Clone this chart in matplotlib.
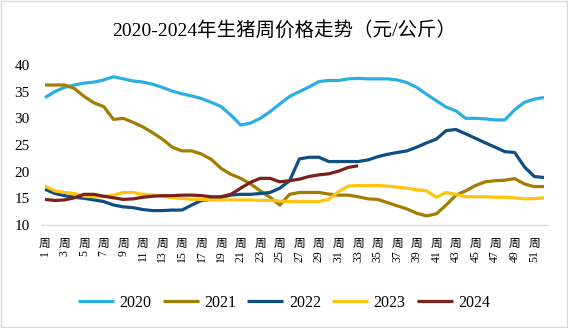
import numpy as np
import matplotlib
matplotlib.use('Agg')
import matplotlib.pyplot as plt
from matplotlib.patches import Rectangle
from matplotlib.transforms import blended_transform_factory

plt.rcParams['font.family'] = ['Liberation Serif', 'Noto Sans CJK SC', 'DejaVu Sans']

weeks = np.arange(1, 53)
label_weeks = weeks[::2]      # 1,3,...,51
label_unit = '周'

p2020 = [33.9, 35.0, 35.8, 36.25, 36.6, 36.8, 37.2, 37.8, 37.4, 37.0,
         36.8, 36.4, 35.8, 35.1, 34.6, 34.2, 33.7, 33.0, 32.2, 30.6,
         28.75, 29.1, 30.0, 31.25, 32.7, 34.1, 35.0, 35.9, 36.9, 37.1,
         37.1, 37.4, 37.5, 37.4, 37.4, 37.4, 37.2, 36.7, 35.8, 34.5,
         33.3, 32.1, 31.4, 30.0, 30.0, 29.9, 29.7, 29.7, 31.6, 33.0,
         33.6, 33.9]
p2021 = [36.25, 36.25, 36.25, 35.6, 34.1, 32.9, 32.2, 29.8, 30.0, 29.25,
         28.4, 27.3, 26.1, 24.6, 23.9, 23.9, 23.3, 22.3, 20.6, 19.5,
         18.75, 17.7, 16.4, 15.2, 13.75, 15.75, 16.1, 16.1, 16.1, 15.8,
         15.6, 15.6, 15.3, 14.9, 14.8, 14.2, 13.6, 13.0, 12.2, 11.7,
         12.1, 13.75, 15.6, 16.4, 17.4, 18.1, 18.3, 18.4, 18.7, 17.7,
         17.2, 17.2]
p2022 = [16.7, 15.9, 15.5, 15.2, 15.0, 14.7, 14.4, 13.75, 13.4, 13.25,
         12.9, 12.7, 12.7, 12.8, 12.8, 13.75, 14.6, 14.8, 15.2, 15.6,
         15.75, 15.75, 15.9, 16.1, 16.9, 18.3, 22.4, 22.7, 22.7, 21.9,
         21.9, 21.9, 21.9, 22.2, 22.8, 23.25, 23.6, 23.9, 24.6, 25.4,
         26.1, 27.7, 27.9, 27.1, 26.25, 25.4, 24.6, 23.75, 23.6, 20.9,
         19.1, 18.9]
p2023 = [17.3, 16.4, 16.1, 15.9, 15.4, 15.3, 15.3, 15.6, 16.1, 16.1,
         15.75, 15.6, 15.4, 15.1, 15.0, 14.8, 14.8, 14.7, 14.7, 14.7,
         14.7, 14.7, 14.6, 14.6, 14.5, 14.4, 14.4, 14.4, 14.4, 14.8,
         16.25, 17.3, 17.4, 17.4, 17.4, 17.3, 17.1, 16.9, 16.6, 16.4,
         15.2, 16.1, 15.75, 15.3, 15.3, 15.3, 15.2, 15.2, 15.1, 14.9,
         14.95, 15.1]
p2024 = [14.8, 14.6, 14.7, 15.1, 15.75, 15.75, 15.4, 15.1, 14.8, 14.9,
         15.2, 15.4, 15.5, 15.5, 15.6, 15.6, 15.5, 15.3, 15.3, 15.75,
         16.9, 18.0, 18.75, 18.75, 18.1, 18.3, 18.6, 19.1, 19.4, 19.6,
         20.1, 20.8, 21.1]

series = [('2020', p2020, '#2BAEE4'),
          ('2021', p2021, '#A37C02'),
          ('2022', p2022, '#0F4E85'),
          ('2023', p2023, '#FFC310'),
          ('2024', p2024, '#7C2119')]

fig = plt.figure(figsize=(5.68, 3.28), dpi=100)
ax = fig.add_axes([41/568., 1-225/328., 507/568., 160/328.])

for name, vals, col in series:
    ax.plot(weeks[:len(vals)], vals, color=col, lw=2.3, label=name,
            solid_joinstyle='round', solid_capstyle='butt')

ax.set_xlim(0.59, 52.41)
ax.set_ylim(10, 40)
ax.set_yticks(np.arange(10, 41, 5))
ax.set_xticks(weeks)
ax.set_xticklabels([])
ax.tick_params(axis='x', length=0)
ax.tick_params(axis='y', length=0, pad=8, labelsize=11)
for s in ['top', 'right', 'left']:
    ax.spines[s].set_visible(False)
ax.spines['bottom'].set_color('#D9D9D9')
ax.spines['bottom'].set_linewidth(1.0)

# week labels: upright 周 on top, rotated number below
trans = blended_transform_factory(ax.transData, ax.transAxes)
for w in label_weeks:
    ax.text(w, -0.075, label_unit, transform=trans, ha='center', va='top',
            fontsize=8.5, family='Noto Sans CJK SC')
    ax.text(w, -0.155, str(w), transform=trans, ha='center', va='top',
            rotation=90, fontsize=8.5)

fig.suptitle('2020-2024年生猪周价格走势（元/公斤）', fontsize=14, y=1-30/328., va='center')

fig.legend(loc='center', bbox_to_anchor=(0.5, 1-303/328.), ncol=5, frameon=False,
           fontsize=11.5, handlelength=2.25, handletextpad=0.35, columnspacing=0.7)

fig.patches.append(Rectangle((0.002, 0.003), 0.996, 0.994, transform=fig.transFigure,
                             fill=False, edgecolor='#D9D9D9', lw=1.0))

plt.savefig('out.png', dpi=100)
